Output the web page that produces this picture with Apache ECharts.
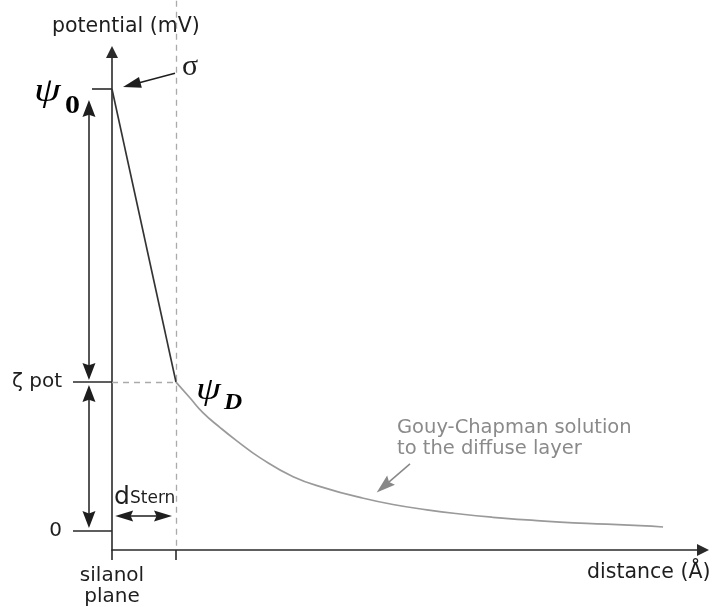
<!DOCTYPE html>
<html>
<head>
<meta charset="utf-8">
<script src="https://cdn.jsdelivr.net/npm/echarts@6/dist/echarts.min.js"></script>
<style>
html,body{margin:0;padding:0;background:#fff;}
#c{width:712px;height:607px;}
</style>
</head>
<body>
<div id="c"></div>
<script>
// ---- data (distance in arbitrary Å units, potential in arbitrary mV units) ----
const psi0 = 100;          // surface potential
const zetaPot = 33.7;      // zeta potential (= psi_D)
const dStern = 10;         // Stern layer thickness
const xMin = 0, xMax = 92.34;
const yMin = -4.3, yMax = 108.4;

// Stern layer: linear drop
const sternX = [0, dStern];
const sternY = [psi0, zetaPot];

// Gouy-Chapman diffuse layer
const gcX = [10, 12.2, 14.2, 16.9, 19.5, 23.1, 28.3, 33.6, 38.75, 43.9, 49.2, 54.4, 59.5, 64.8, 70, 77.3, 82.5, 86.1];
const gcY = [33.7, 30.1, 26.8, 23.4, 20.4, 16.6, 12.3, 9.6, 7.6, 6.0, 4.8, 3.85, 3.1, 2.5, 2.0, 1.55, 1.2, 0.9];

// axis ticks / labels
const yTickValues = [0, zetaPot];
const yTickLabels = ['0', 'ζ pot'];
const xTickValues = [0, dStern];
const xLabelValues = [0];
const xLabelTexts = ['silanol\nplane'];

// annotation arrows (data coordinates)
const psiArrowX = -3.6;
const doubleArrowsV = [
  [[psiArrowX, 95.6], [psiArrowX, 36.1]],
  [[psiArrowX, 31.1], [psiArrowX, 2.6]]
];
const sternArrow = [[[1.9, 3.4], [7.97, 3.4]]];
const sigmaArrow = [[[9.84, 103.6], [3.08, 101.0]]];
const gcArrow = [[[46.56, 15.2], [42.48, 10.1]]];
const psi0Tick = [[[-3.125, psi0], [0, psi0]]];
const dashedLines = [
  [[dStern, 120], [dStern, yMin]],
  [[0, zetaPot], [dStern, zetaPot]]
];

const zip = (a, b) => a.map((v, i) => [v, b[i]]);
const toLines = arr => arr.map(c => ({ coords: c }));

const ink = '#1e1e1e';
const headPath = 'path://M50,0 L100,100 L50,86 L0,100 Z';
const triPath = 'path://M50,0 L100,100 L0,100 Z';
const sans = 'DejaVu Sans';

const chart = echarts.init(document.getElementById('c'), null, { renderer: 'canvas' });

const option = {
  animation: false,
  backgroundColor: '#fff',
  grid: { left: 112, right: 9, top: 52, bottom: 57, containLabel: false },
  xAxis: {
    type: 'value', min: xMin, max: xMax,
    axisLine: {
      onZero: false, symbol: ['none', triPath], symbolSize: [12, 18],
      lineStyle: { color: '#2a2a2a', width: 1.6 }
    },
    axisTick: { show: true, customValues: xTickValues, length: 10, lineStyle: { color: '#2a2a2a', width: 1.6 } },
    axisLabel: {
      customValues: xLabelValues,
      formatter: v => xLabelTexts[xLabelValues.indexOf(v)] || '',
      margin: 15, fontSize: 20, lineHeight: 21, color: ink, fontFamily: sans
    },
    splitLine: { show: false }
  },
  yAxis: {
    type: 'value', min: yMin, max: yMax,
    axisLine: {
      show: true, symbol: ['none', triPath], symbolSize: [12, 16],
      lineStyle: { color: '#2a2a2a', width: 1.6 }
    },
    axisTick: { show: true, customValues: yTickValues, length: 39, lineStyle: { color: '#2a2a2a', width: 1.5 } },
    axisLabel: {
      customValues: yTickValues,
      formatter: v => yTickLabels[yTickValues.indexOf(v)] ?? '',
      margin: 50, fontSize: 20, color: ink, fontFamily: sans
    },
    splitLine: { show: false }
  },
  series: [
    {
      type: 'lines', coordinateSystem: 'cartesian2d', clip: false, silent: true,
      symbol: ['none', 'none'],
      lineStyle: { color: '#aaa', width: 1.3, type: [6, 5], opacity: 1 },
      data: toLines(dashedLines)
    },
    {
      type: 'line', data: zip(sternX, sternY), symbol: 'none', clip: false,
      lineStyle: { color: '#333', width: 1.7 }
    },
    {
      type: 'line', data: zip(gcX, gcY), symbol: 'none', smooth: true, clip: false,
      lineStyle: { color: '#9a9a9a', width: 1.7 }
    },
    {
      type: 'lines', coordinateSystem: 'cartesian2d', clip: false, silent: true,
      symbol: [headPath, headPath], symbolSize: [[13, 17], [13, 17]],
      lineStyle: { color: ink, width: 1.5, opacity: 1 },
      data: toLines(doubleArrowsV)
    },
    {
      type: 'lines', coordinateSystem: 'cartesian2d', clip: false, silent: true,
      symbol: [headPath, headPath], symbolSize: [[11, 18], [11, 18]],
      lineStyle: { color: ink, width: 1.5, opacity: 1 },
      data: toLines(sternArrow)
    },
    {
      type: 'lines', coordinateSystem: 'cartesian2d', clip: false, silent: true,
      symbol: ['none', triPath], symbolSize: [[11, 18], [11, 18]],
      lineStyle: { color: ink, width: 1.5, opacity: 1 },
      data: toLines(sigmaArrow)
    },
    {
      type: 'lines', coordinateSystem: 'cartesian2d', clip: false, silent: true,
      symbol: ['none', headPath], symbolSize: [[12, 19], [12, 19]],
      lineStyle: { color: '#888', width: 1.5, opacity: 1 },
      data: toLines(gcArrow)
    },
    {
      type: 'lines', coordinateSystem: 'cartesian2d', clip: false, silent: true,
      symbol: ['none', 'none'],
      lineStyle: { color: '#2a2a2a', width: 1.6, opacity: 1 },
      data: toLines(psi0Tick)
    }
  ],
  graphic: [
    { type: 'text', x: 52, y: 27, style: { text: 'potential (mV)', fill: ink, font: '20.5px "DejaVu Sans"', textVerticalAlign: 'middle' } },
    { type: 'text', x: 587, y: 573, style: { text: 'distance (Å)', fill: ink, font: '20.5px "DejaVu Sans"', textVerticalAlign: 'middle' } },
    { type: 'text', x: 397, y: 417, style: { text: 'Gouy-Chapman solution\nto the diffuse layer', fill: '#8a8a8a', font: '19.5px "DejaVu Sans"', lineHeight: 21, textVerticalAlign: 'top' } },
    { type: 'text', x: 182, y: 67, style: { text: 'σ', fill: ink, font: '30px "Liberation Serif"', textVerticalAlign: 'middle' } },
    { type: 'text', x: 34, y: 92, scaleX: 1.3, style: { text: 'ψ', fill: '#000', font: 'italic 33px "Liberation Serif"', textVerticalAlign: 'middle' } },
    { type: 'text', x: 65, y: 106.5, scaleX: 1.15, style: { text: '0', fill: '#000', font: 'bold 26px "Liberation Serif"', textVerticalAlign: 'middle' } },
    { type: 'text', x: 196, y: 391, scaleX: 1.25, style: { text: 'ψ', fill: '#000', font: 'italic 32px "Liberation Serif"', textVerticalAlign: 'middle' } },
    { type: 'text', x: 224, y: 403, scaleX: 1.05, style: { text: 'D', fill: '#000', font: 'italic bold 24px "Liberation Serif"', textVerticalAlign: 'middle' } },
    { type: 'text', x: 114, y: 497, style: { text: 'd', fill: ink, font: '25px "DejaVu Sans"', textVerticalAlign: 'middle' } },
    { type: 'text', x: 130, y: 499, style: { text: 'Stern', fill: ink, font: '17px "DejaVu Sans"', textVerticalAlign: 'middle' } }
  ]
};
chart.setOption(option);
</script>
</body>
</html>
